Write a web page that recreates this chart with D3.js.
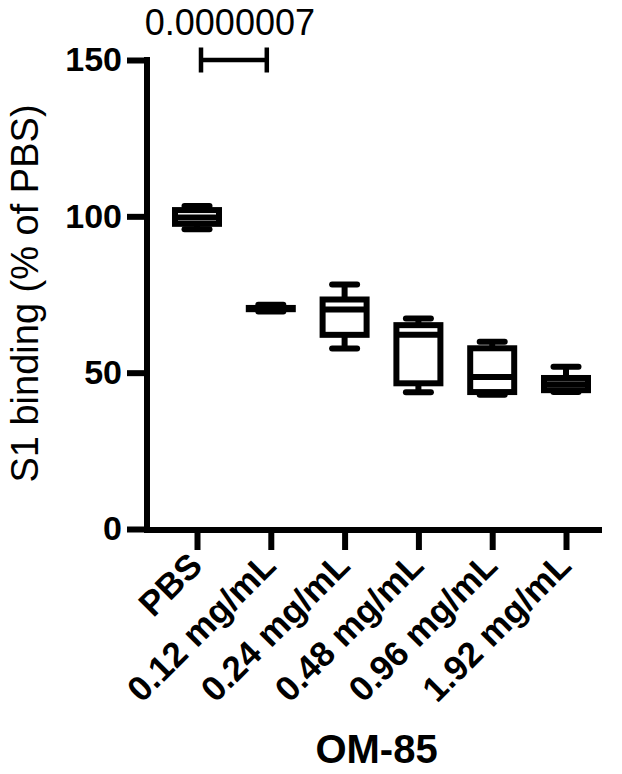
<!DOCTYPE html>
<html><head><meta charset="utf-8">
<script src="https://cdn.jsdelivr.net/npm/d3@7"></script>
<style>body{margin:0;background:#fff;} svg{display:block;}</style>
</head><body>
<svg id="chart" width="622" height="774"></svg>
<script>
const categories = ["PBS","0.12 mg/mL","0.24 mg/mL","0.48 mg/mL","0.96 mg/mL","1.92 mg/mL"];
const minValues    = [95.9, 69.6, 57.7, 43.7, 42.9, 43.8];
const q1Values     = [97.6, 70.3, 62.1, 46.6, 43.8, 44.4];
const medianValues = [99.6, 70.5, 70.2, 62.1, 48.6, 46.3];
const q3Values     = [102.0, 70.7, 73.4, 65.2, 57.8, 48.3];
const maxValues    = [103.3, 71.7, 78.2, 67.3, 59.9, 51.9];
const yTicks = [0, 50, 100, 150];
const comparison = ["PBS", "0.12 mg/mL"];
const pValueLabel = "0.0000007";
const yAxisTitle = "S1 binding (% of PBS)";
const xAxisTitle = "OM-85";

const FONT = "'Liberation Sans', Arial, Helvetica, sans-serif";
const SW = 6;
const svg = d3.select("#chart");
const x = d3.scalePoint().domain(categories).range([197, 566]);
const y = d3.scaleLinear().domain([0, 150]).range([529, 60]);
const axisLeftX = 147, axisRightX = 602, axisY = 530;

// Y axis
const gy = svg.append("g").attr("transform", `translate(${axisLeftX},0)`)
  .call(d3.axisLeft(y).tickValues(yTicks).tickSize(20).tickPadding(5).tickSizeOuter(0));
gy.select(".domain").remove();
gy.selectAll(".tick line").attr("stroke", "#000").attr("stroke-width", SW);
gy.selectAll(".tick text").attr("fill", "#000")
  .style("font-family", FONT).style("font-size", "34px").style("font-weight", "bold");
svg.append("line").attr("x1", axisLeftX).attr("x2", axisLeftX)
  .attr("y1", y(150) - SW / 2).attr("y2", axisY + SW / 2)
  .attr("stroke", "#000").attr("stroke-width", SW);

// X axis
const gx = svg.append("g").attr("transform", `translate(0,${axisY})`)
  .call(d3.axisBottom(x).tickSize(20).tickSizeOuter(0));
gx.select(".domain").remove();
gx.selectAll(".tick line").attr("stroke", "#000").attr("stroke-width", SW);
gx.selectAll(".tick text")
  .attr("x", 0).attr("y", 0).attr("dy", "0.35em")
  .attr("transform", "translate(-2,29) rotate(-45)")
  .attr("text-anchor", "end").attr("fill", "#000")
  .style("font-family", FONT).style("font-size", "35px").style("font-weight", "bold");
svg.append("line").attr("x1", axisLeftX - SW / 2).attr("x2", axisRightX)
  .attr("y1", axisY).attr("y2", axisY)
  .attr("stroke", "#000").attr("stroke-width", SW);

// Boxes
const boxW = 44, capL = 25;
const data = categories.map((c, i) => ({c, min: minValues[i], q1: q1Values[i], med: medianValues[i], q3: q3Values[i], max: maxValues[i]}));
const g = svg.append("g").selectAll("g").data(data).join("g")
  .attr("transform", d => `translate(${x(d.c)},0)`);
g.append("line").attr("y1", d => y(d.max)).attr("y2", d => y(d.q3))
  .attr("stroke", "#000").attr("stroke-width", SW);
g.append("line").attr("y1", d => y(d.q1)).attr("y2", d => y(d.min))
  .attr("stroke", "#000").attr("stroke-width", SW);
g.append("line").attr("x1", -capL / 2).attr("x2", capL / 2)
  .attr("y1", d => y(d.max)).attr("y2", d => y(d.max))
  .attr("stroke", "#000").attr("stroke-width", SW).attr("stroke-linecap", "round");
g.append("line").attr("x1", -capL / 2).attr("x2", capL / 2)
  .attr("y1", d => y(d.min)).attr("y2", d => y(d.min))
  .attr("stroke", "#000").attr("stroke-width", SW).attr("stroke-linecap", "round");
g.append("rect").attr("x", -boxW / 2).attr("width", boxW)
  .attr("y", d => y(d.q3)).attr("height", d => y(d.q1) - y(d.q3))
  .attr("fill", "#fff").attr("stroke", "#000").attr("stroke-width", SW);
g.append("line").attr("x1", -boxW / 2).attr("x2", boxW / 2)
  .attr("y1", d => y(d.med)).attr("y2", d => y(d.med))
  .attr("stroke", "#000").attr("stroke-width", SW);

// Significance bracket
const bx0 = x(comparison[0]) + 4, bx1 = x(comparison[1]) - 4, by = y(150);
svg.append("path")
  .attr("d", `M${bx0},${by - 12.5}V${by + 12.5}M${bx0},${by}H${bx1}M${bx1},${by - 12.5}V${by + 12.5}`)
  .attr("fill", "none").attr("stroke", "#000").attr("stroke-width", 4.5);
svg.append("text").attr("x", (bx0 + bx1) / 2 - 4).attr("y", 35)
  .attr("text-anchor", "middle").attr("fill", "#000")
  .style("font-family", FONT).style("font-size", "36px")
  .text(pValueLabel);

// Axis titles
svg.append("text").attr("transform", `translate(38,${(y(0) + y(150)) / 2 - 1}) rotate(-90)`)
  .attr("text-anchor", "middle").attr("fill", "#000")
  .style("font-family", FONT).style("font-size", "38px")
  .text(yAxisTitle);
svg.append("text").attr("x", (axisLeftX + axisRightX) / 2 + 2).attr("y", 763)
  .attr("text-anchor", "middle").attr("fill", "#000")
  .style("font-family", FONT).style("font-size", "40px").style("font-weight", "bold")
  .text(xAxisTitle);
</script>
</body></html>
